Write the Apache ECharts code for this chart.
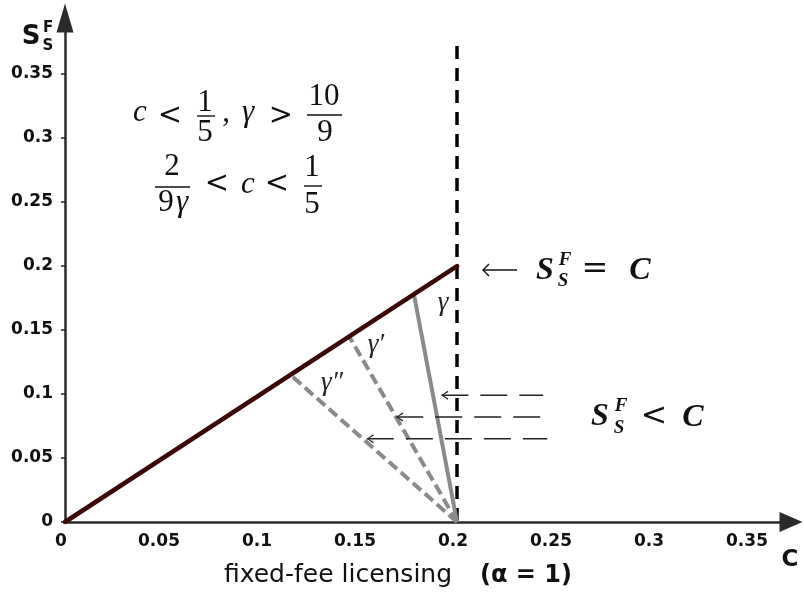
<!DOCTYPE html>
<html>
<head>
<meta charset="utf-8">
<script src="https://cdn.jsdelivr.net/npm/echarts@6/dist/echarts.min.js"></script>
<style>
  html, body { margin: 0; padding: 0; background: #ffffff; }
  #chart { width: 804px; height: 594px; }
</style>
</head>
<body>
<div id="chart"></div>
<script>
// ---- data ---------------------------------------------------------------
// Frontier S_S^F = c, running up to the cutoff c = 1/5
const frontierC = [0, 0.2];
const frontierS = [0, 0.2];
// Vertical cutoff at c = 1/5
const cutoffC = 0.2;
const cutoffSpan = [0.372, 0];
// Iso-gamma rays: all leave (0.2, 0) and hit the frontier at these c values
const rayOrigin = [0.2, 0];
const rayNames = ['γ', 'γ′', 'γ″'];
const rayFootC = [0.178, 0.145, 0.115];
// Leftward arrows in the region S_S^F < C
const arrowS = [0.099, 0.082, 0.065];
const arrowHeadC = [0.192, 0.169, 0.154];
const arrowTailC = [0.244, 0.246, 0.246];
// Axis ranges and tick step
const xRange = [0, 0.3704];
const yRange = [0, 0.3938];
const tickStep = 0.05;

// ---- styles -------------------------------------------------------------
const SERIF = '"Liberation Serif", "DejaVu Serif", serif';
const SYM = '"DejaVu Serif", serif';
const SANS = '"DejaVu Sans", sans-serif';
const INK = '#111111';
const GREY = '#8a8a8a';
const ARROW_HEAD = 'path://M10,0 L11.2,1.6 L2.4,6 L11.2,10.4 L10,12 L0,6 Z';

function seg(data, lineStyle, z) {
  return {
    type: 'line', data: data, symbol: 'none', silent: true,
    animation: false, z: z, lineStyle: lineStyle, emphasis: { disabled: true }
  };
}

const series = [];
// cutoff line c = 1/5
series.push(seg(cutoffSpan.map(function (s) { return [cutoffC, s]; }),
  { color: '#000000', width: 3.5, type: [13, 9], cap: 'butt' }, 2));
// gamma rays: solid for the first, dashed for the others
rayFootC.forEach(function (c, i) {
  series.push(seg([rayOrigin, [c, c]], {
    color: GREY, width: 4, type: i === 0 ? 'solid' : [11, 5], cap: 'butt'
  }, 3));
});
// frontier
series.push(seg(frontierC.map(function (c, i) { return [c, frontierS[i]]; }),
  { color: '#3a0808', width: 4.5, cap: 'round' }, 4));
// leftward arrows
arrowS.forEach(function (s, i) {
  series.push({
    type: 'line', silent: true, animation: false, z: 5,
    emphasis: { disabled: true },
    data: [
      { value: [arrowHeadC[i], s], symbol: ARROW_HEAD, symbolSize: [7, 9], symbolOffset: [3.5, 0] },
      { value: [arrowTailC[i], s], symbol: 'none' }
    ],
    itemStyle: { color: '#222222' },
    lineStyle: { color: '#222222', width: 1.5, type: [27, 12] }
  });
});

// ---- annotations ----------------------------------------------------------
const graphics = [];
function txt(text, x, y, font, extra) {
  graphics.push({
    type: 'text', x: x, y: y, silent: true, z: 10,
    style: Object.assign({
      text: text, font: font, fill: INK,
      align: 'center', verticalAlign: 'middle',
      textAlign: 'center', textVerticalAlign: 'middle'
    }, extra || {})
  });
}
function bar(x1, x2, y) {
  graphics.push({
    type: 'line', silent: true, z: 10,
    shape: { x1: x1, y1: y, x2: x2, y2: y },
    style: { stroke: INK, lineWidth: 1.4 }
  });
}
const mi = 'italic 31px ' + SERIF;
const mn = '31px ' + SERIF;
const rel = '29px ' + SYM;

// c < 1/5 , γ > 10/9
txt('c', 140, 113, mi);
txt('<', 170, 116, rel);
txt('1', 205, 103, mn); bar(197, 215, 116); txt('5', 205, 133, mn);
txt(',', 226, 113, mn);
txt('γ', 248, 113, mi);
txt('>', 281, 116, rel);
txt('10', 324, 97, mn); bar(307, 342, 115); txt('9', 325, 133, mn);
// 2/(9γ) < c < 1/5
txt('2', 172, 167, mn); bar(155, 190, 187); txt('9', 166, 203, mn); txt('γ', 182, 203, mi);
txt('<', 217, 184, rel);
txt('c', 248, 185, mi);
txt('<', 277, 184, rel);
txt('1', 312, 168, mn); bar(304, 322, 186); txt('5', 312, 205, mn);

// ← S_S^F = C
graphics.push({
  type: 'polyline', silent: true, z: 10,
  shape: { points: [[489, 264], [483, 270], [489, 276]] },
  style: { stroke: INK, lineWidth: 1.4, fill: null }
});
bar(483, 517, 270);
const bi = 'italic bold 32px ' + SERIF;
const bis = 'italic bold 19px ' + SERIF;
txt('S', 545, 271, bi);
txt('F', 565, 260, bis);
txt('S', 563, 281, bis);
txt('=', 595, 270, '32px ' + SYM);
txt('C', 640, 271, bi);

// S_S^F < C
txt('S', 600, 417, bi);
txt('F', 621, 406, bis);
txt('S', 619, 428, bis);
txt('<', 654, 417, '32px ' + SYM);
txt('C', 693, 418, bi);

// ray labels
const rayLabelPos = [[443, 303], [376, 345], [332, 383]];
rayNames.forEach(function (n, i) {
  txt(n, rayLabelPos[i][0], rayLabelPos[i][1], 'italic 27px ' + SERIF, { fill: '#222222' });
});

// axis names
txt('S', 31, 37, 'bold 26px ' + SANS);
txt('F', 48, 28, 'bold 15px ' + SANS);
txt('S', 48, 46, 'bold 15px ' + SANS);
txt('C', 790, 560, 'bold 23px ' + SANS);
txt('fixed-fee licensing', 338, 575, '25px ' + SANS);
txt('(α = 1)', 526, 576, 'bold 24px ' + SANS);

// ---- chart ----------------------------------------------------------------
const axisLabel = {
  color: INK, fontFamily: SANS, fontWeight: 'bold', fontSize: 17
};
const chart = echarts.init(document.getElementById('chart'), null, { renderer: 'canvas' });
chart.setOption({
  animation: false,
  backgroundColor: '#ffffff',
  grid: { left: 65, right: 13, top: 18, bottom: 72, containLabel: false },
  xAxis: {
    type: 'value', min: xRange[0], max: xRange[1], interval: tickStep,
    axisLine: {
      show: true, onZero: false, symbol: ['none', 'triangle'], symbolSize: [20, 23],
      lineStyle: { color: '#2a2a2a', width: 2.5 }
    },
    axisTick: { show: false },
    splitLine: { show: false },
    axisLabel: Object.assign({ margin: 11, padding: [0, 8, 0, 0],
      showMaxLabel: false, formatter: function (v) { return String(+v.toFixed(2)); } }, axisLabel)
  },
  yAxis: {
    type: 'value', min: yRange[0], max: yRange[1], interval: tickStep,
    axisLine: {
      show: true, onZero: false, symbol: ['none', 'triangle'], symbolSize: [17, 29],
      lineStyle: { color: '#2a2a2a', width: 2.5 }
    },
    axisTick: { show: true, length: 4, lineStyle: { color: '#2a2a2a', width: 1.5 } },
    splitLine: { show: false },
    axisLabel: Object.assign({ margin: 12, showMaxLabel: false,
      formatter: function (v) { return String(+v.toFixed(2)); } }, axisLabel)
  },
  series: series,
  graphic: { elements: graphics }
});
</script>
</body>
</html>
